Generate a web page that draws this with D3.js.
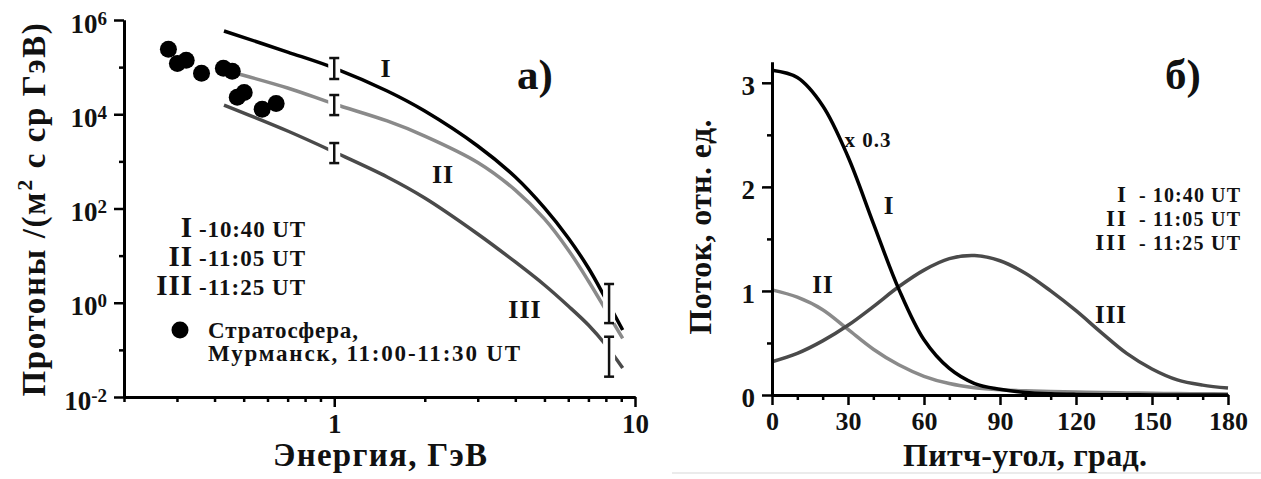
<!DOCTYPE html>
<html>
<head>
<meta charset="utf-8">
<script src="https://cdn.jsdelivr.net/npm/d3@7"></script>
<style>
  body { margin: 0; background: #fff; }
  svg { display: block; }
  text { font-family: "Liberation Serif", "Times New Roman", serif; font-weight: bold; fill: #111; }
</style>
</head>
<body>
<svg id="viz"></svg>
<script>
const width = 1261, height = 479;

// ---- panel a): proton spectra ----
const energyGrid = [0.43, 0.7, 1, 1.5, 2, 3, 4, 5, 6, 7, 8, 9.1];
const fluxI   = [5.85e5, 2.09e5, 9.57e4, 3.11e4, 1.17e4, 2.12e3, 466, 103, 23.7, 5.46, 1.20, 0.264];
const fluxII  = [8.69e4, 3.61e4, 1.65e4, 7.2e3, 3.45e3, 9.5e2, 246, 60, 13.2, 2.9, 0.70, 0.175];
const fluxIII = [1.57e4, 4.41e3, 1.58e3, 466, 167, 28.8, 7.33, 2.38, 0.853, 0.337, 0.127, 0.0412];

// balloon points, Murmansk
const stratoEnergy = [0.281, 0.301, 0.322, 0.362, 0.428, 0.458, 0.502, 0.476, 0.576, 0.641];
const stratoFlux   = [2.4e5, 1.2e5, 1.4e5, 7.4e4, 9.5e4, 8.2e4, 2.9e4, 2.3e4, 1.28e4, 1.7e4];

const errEnergy = [1, 1, 1, 8.2, 8.2];
const errLow    = [5.6e4, 9.6e3, 920, 0.37, 0.027];
const errHigh   = [1.56e5, 2.56e4, 2.45e3, 2.5, 0.19];

const yMajorA = [1e-2, 1, 1e2, 1e4, 1e6];
const yMinorA = [1e-1, 1e1, 1e3, 1e5];
const xMajorA = [1, 10];
const xMinorA = [0.2, 0.3, 0.4, 0.5, 0.6, 0.7, 0.8, 0.9, 2, 3, 4, 5, 6, 7, 8, 9];

// ---- panel б): pitch-angle distributions ----
const pitchAngle = [0, 10, 20, 30, 40, 50, 60, 70, 80, 90, 100, 110, 120, 130, 140, 150, 160, 170, 180];
const distI   = [3.12, 3.05, 2.78, 2.29, 1.65, 1.02, 0.53, 0.255, 0.11, 0.055, 0.025, 0.012, 0.006, 0.003, 0.002, 0.001, 0.001, 0, 0];
const distII  = [1.01, 0.94, 0.82, 0.63, 0.44, 0.29, 0.18, 0.11, 0.07, 0.05, 0.04, 0.033, 0.028, 0.024, 0.02, 0.017, 0.014, 0.012, 0.01];
const distIII = [0.32, 0.40, 0.52, 0.67, 0.85, 1.04, 1.20, 1.31, 1.34, 1.29, 1.17, 1.00, 0.81, 0.60, 0.40, 0.25, 0.145, 0.095, 0.067];

const yMajorB = [0, 1, 2, 3];
const yMinorB = [0.5, 1.5, 2.5];
const xMajorB = [0, 30, 60, 90, 120, 150, 180];
const xMinorB = [10, 20, 40, 50, 70, 80, 100, 110, 130, 140, 160, 170];

const timesRoman = ["I", "II", "III"];
const timesUT = ["10:40 UT", "11:05 UT", "11:25 UT"];

const colI = "#000", colII = "#8a8a8a", colIII = "#4a4a4a";

const svg = d3.select("#viz")
  .attr("width", width)
  .attr("height", height);

svg.append("rect").attr("width", width).attr("height", height).attr("fill", "#fff");

function styleAxis(g, fs) {
  g.attr("font-size", null).attr("font-family", null);
  g.select(".domain").attr("stroke", "#000").attr("stroke-width", 3);
  g.selectAll(".tick line").attr("stroke", "#000").attr("stroke-width", 2.5);
  g.selectAll(".tick text").attr("font-size", fs).attr("fill", "#111");
}

/* ================= panel a) ================= */
const xA = d3.scaleLog().domain([0.2, 10]).range([124, 635]);
const yA = d3.scaleLog().domain([1e-2, 1e6]).range([397, 20]);

const pa = svg.append("g");

const lineA = d3.line()
  .x(d => xA(d[0]))
  .y(d => yA(d[1]))
  .curve(d3.curveCatmullRom.alpha(0.5));

[[fluxIII, colIII], [fluxII, colII], [fluxI, colI]].forEach(([f, c]) => {
  pa.append("path")
    .attr("d", lineA(energyGrid.map((e, i) => [e, f[i]])))
    .attr("fill", "none")
    .attr("stroke", c)
    .attr("stroke-width", 3.5);
});

// error bars, with a white backing so the curves break around them
const errs = errEnergy.map((e, i) => ({ e: e, lo: errLow[i], hi: errHigh[i] }));
const eb = pa.selectAll(".err").data(errs).join("g").attr("class", "err");
eb.append("rect")
  .attr("x", d => xA(d.e) - 6)
  .attr("y", d => yA(d.hi))
  .attr("width", 12)
  .attr("height", d => yA(d.lo) - yA(d.hi))
  .attr("fill", "#fff");
eb.append("line")
  .attr("x1", d => xA(d.e)).attr("x2", d => xA(d.e))
  .attr("y1", d => yA(d.hi)).attr("y2", d => yA(d.lo))
  .attr("stroke", "#111").attr("stroke-width", 2.5);
eb.append("line")
  .attr("x1", d => xA(d.e) - 5).attr("x2", d => xA(d.e) + 5)
  .attr("y1", d => yA(d.hi)).attr("y2", d => yA(d.hi))
  .attr("stroke", "#111").attr("stroke-width", 2.5);
eb.append("line")
  .attr("x1", d => xA(d.e) - 5).attr("x2", d => xA(d.e) + 5)
  .attr("y1", d => yA(d.lo)).attr("y2", d => yA(d.lo))
  .attr("stroke", "#111").attr("stroke-width", 2.5);

pa.selectAll("circle.strato")
  .data(stratoEnergy.map((e, i) => [e, stratoFlux[i]]))
  .join("circle")
  .attr("class", "strato")
  .attr("cx", d => xA(d[0]))
  .attr("cy", d => yA(d[1]))
  .attr("r", 8.5)
  .attr("fill", "#000");

// axes
const yAxMinA = pa.append("g").attr("transform", `translate(${xA(0.2)},0)`)
  .call(d3.axisLeft(yA).tickValues(yMinorA).tickSize(5).tickSizeOuter(0).tickFormat(""));
styleAxis(yAxMinA, 26);
const yAxA = pa.append("g").attr("transform", `translate(${xA(0.2)},0)`)
  .call(d3.axisLeft(yA).tickValues(yMajorA).tickSize(10).tickPadding(7).tickSizeOuter(0).tickFormat(""));
styleAxis(yAxA, 27);
yAxA.selectAll(".tick text").each(function(d) {
  const t = d3.select(this).attr("dy", "0.45em");
  t.append("tspan").text("10");
  t.append("tspan").attr("dy", -8).attr("font-size", 19).text(Math.round(Math.log10(d)));
});

const xAxMinA = pa.append("g").attr("transform", `translate(0,${yA(1e-2)})`)
  .call(d3.axisBottom(xA).tickValues(xMinorA).tickSize(5).tickSizeOuter(0).tickFormat(""));
styleAxis(xAxMinA, 26);
const xAxA = pa.append("g").attr("transform", `translate(0,${yA(1e-2)})`)
  .call(d3.axisBottom(xA).tickValues(xMajorA).tickSize(10).tickPadding(7).tickSizeOuter(0).tickFormat(d3.format("d")));
styleAxis(xAxA, 27);

// titles
pa.append("text")
  .attr("x", 380).attr("y", 466)
  .attr("text-anchor", "middle")
  .attr("font-size", 33)
  .attr("textLength", 214).attr("lengthAdjust", "spacing")
  .text("Энергия, ГэВ");

const yt = pa.append("text")
  .attr("transform", "translate(45,209) rotate(-90)")
  .attr("text-anchor", "middle")
  .attr("font-size", 33)
  .attr("letter-spacing", 1.6);
yt.append("tspan").text("Протоны /(м");
yt.append("tspan").attr("dy", -13).attr("font-size", 22).text("2");
yt.append("tspan").attr("dy", 13).text(" с ср ГэВ)");

pa.append("text").attr("x", 535).attr("y", 89).attr("text-anchor", "middle")
  .attr("font-size", 43).text("а)");

// curve labels
const curveLabA = [[386, 77], [443, 183], [525, 318]];
curveLabA.forEach((p, i) => {
  pa.append("text").attr("x", p[0]).attr("y", p[1]).attr("text-anchor", "middle")
    .attr("font-size", 26).attr("letter-spacing", 1).text(timesRoman[i]);
});

// legend
const legYA = [237, 266, 295];
timesRoman.forEach((r, i) => {
  pa.append("text").attr("x", 193).attr("y", legYA[i]).attr("text-anchor", "end")
    .attr("font-size", 29).attr("letter-spacing", 1).text(r);
  pa.append("text").attr("x", 199).attr("y", legYA[i])
    .attr("font-size", 23)
    .attr("textLength", 106).attr("lengthAdjust", "spacing")
    .text("-" + timesUT[i]);
});
pa.append("circle").attr("cx", 180).attr("cy", 330).attr("r", 8.5).attr("fill", "#000");
pa.append("text").attr("x", 208).attr("y", 338).attr("font-size", 23)
  .attr("textLength", 150).attr("lengthAdjust", "spacing").text("Стратосфера,");
pa.append("text").attr("x", 208).attr("y", 361).attr("font-size", 23)
  .attr("textLength", 312).attr("lengthAdjust", "spacing").text("Мурманск, 11:00-11:30 UT");

/* ================= panel б) ================= */
const xB = d3.scaleLinear().domain([0, 180]).range([772, 1228]);
const yB = d3.scaleLinear().domain([0, 3.2]).range([395, 62]);

const pb = svg.append("g");

// faint frame line along the bottom of the right panel
pb.append("line").attr("x1", 672).attr("x2", 1261).attr("y1", 473).attr("y2", 473)
  .attr("stroke", "#e4e4e4").attr("stroke-width", 1.5);

const lineB = d3.line()
  .x(d => xB(d[0]))
  .y(d => yB(d[1]))
  .curve(d3.curveCatmullRom.alpha(0.5));

[[distII, colII], [distIII, colIII], [distI, colI]].forEach(([f, c]) => {
  pb.append("path")
    .attr("d", lineB(pitchAngle.map((a, i) => [a, f[i]])))
    .attr("fill", "none")
    .attr("stroke", c)
    .attr("stroke-width", 3.5);
});

const yAxMinB = pb.append("g").attr("transform", `translate(${xB(0)},0)`)
  .call(d3.axisLeft(yB).tickValues(yMinorB).tickSize(5).tickSizeOuter(0).tickFormat(""));
styleAxis(yAxMinB, 26);
const yAxB = pb.append("g").attr("transform", `translate(${xB(0)},0)`)
  .call(d3.axisLeft(yB).tickValues(yMajorB).tickSize(10).tickPadding(7).tickSizeOuter(0).tickFormat(d3.format("d")));
styleAxis(yAxB, 27);
yAxB.selectAll(".tick text").attr("dy", "0.42em");

const xAxMinB = pb.append("g").attr("transform", `translate(0,${yB(0)})`)
  .call(d3.axisBottom(xB).tickValues(xMinorB).tickSize(5).tickSizeOuter(0).tickFormat(""));
styleAxis(xAxMinB, 26);
const xAxB = pb.append("g").attr("transform", `translate(0,${yB(0)})`)
  .call(d3.axisBottom(xB).tickValues(xMajorB).tickSize(10).tickPadding(7).tickSizeOuter(0).tickFormat(d3.format("d")));
styleAxis(xAxB, 26);

pb.append("text")
  .attr("x", 1025).attr("y", 466)
  .attr("text-anchor", "middle")
  .attr("font-size", 32)
  .attr("textLength", 244).attr("lengthAdjust", "spacing")
  .text("Питч-угол, град.");

pb.append("text")
  .attr("transform", "translate(711,227) rotate(-90)")
  .attr("text-anchor", "middle")
  .attr("font-size", 32)
  .attr("textLength", 215).attr("lengthAdjust", "spacing")
  .text("Поток, отн. ед.");

pb.append("text").attr("x", 1183).attr("y", 89).attr("text-anchor", "middle")
  .attr("font-size", 43).text("б)");

pb.append("text").attr("x", 868).attr("y", 147).attr("text-anchor", "middle")
  .attr("font-size", 21).attr("letter-spacing", 1).text("x 0.3");

const curveLabB = [[889, 214], [823, 293], [1111, 323]];
curveLabB.forEach((p, i) => {
  pb.append("text").attr("x", p[0]).attr("y", p[1]).attr("text-anchor", "middle")
    .attr("font-size", 25).attr("letter-spacing", 1).text(timesRoman[i]);
});

const legYB = [202, 226, 250];
timesRoman.forEach((r, i) => {
  pb.append("text").attr("x", 1128).attr("y", legYB[i]).attr("text-anchor", "end")
    .attr("font-size", 23).attr("letter-spacing", 2).text(r);
  pb.append("text").attr("x", 1139).attr("y", legYB[i])
    .attr("font-size", 20)
    .attr("textLength", 101).attr("lengthAdjust", "spacing")
    .text("- " + timesUT[i]);
});
</script>
</body>
</html>
